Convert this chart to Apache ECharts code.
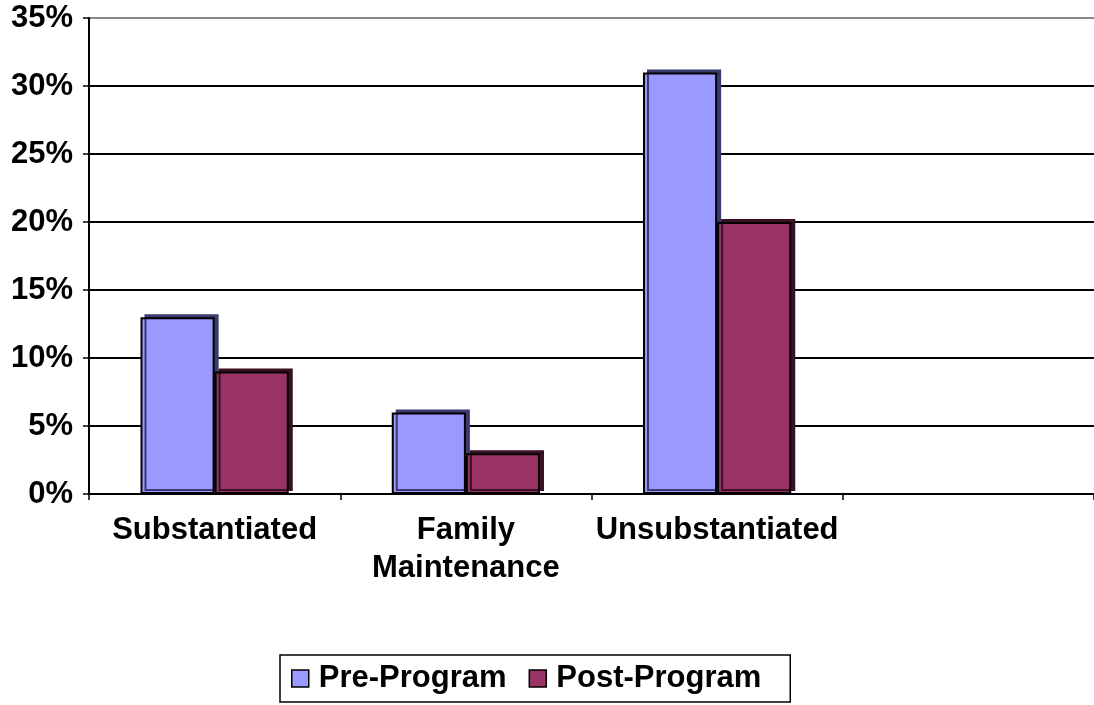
<!DOCTYPE html>
<html><head><meta charset="utf-8">
<script src="https://cdn.jsdelivr.net/npm/echarts@6/dist/echarts.min.js"></script>
<style>html,body{margin:0;padding:0;background:#fff}#c{width:1094px;height:705px}</style>
</head><body><div id="c"></div>
<script>
var categories = ['Substantiated', 'Family\nMaintenance', 'Unsubstantiated', ''];
var preProgram = [13, 6, 31, null];
var postProgram = [9, 3, 20, null];
var seriesNames = ['Pre-Program', 'Post-Program'];

var chart = echarts.init(document.getElementById('c'));
var font = '"Liberation Sans", Arial, sans-serif';
chart.setOption({
  animation: false,
  backgroundColor: '#fff',
  textStyle: { fontFamily: font },
  grid: { left: 89, right: -2, top: 18, bottom: 211, containLabel: false },
  legend: {
    bottom: 3, left: 280,
    icon: 'rect',
    itemWidth: 17, itemHeight: 17, itemGap: 22,
    padding: [8, 29, 8, 11],
    borderColor: '#000', borderWidth: 1.5,
    textStyle: { fontSize: 31, fontWeight: 'bold', color: '#000', fontFamily: font, padding: [0, 0, 0, 5] },
    itemStyle: { borderColor: '#000', borderWidth: 1.5 },
    data: seriesNames
  },
  xAxis: {
    type: 'category',
    data: categories,
    axisLine: { lineStyle: { color: '#000', width: 2 } },
    axisTick: { show: true, interval: 0, alignWithLabel: false, length: 6, lineStyle: { color: '#000', width: 1.5 } },
    axisLabel: { interval: 0, fontSize: 31, fontWeight: 'bold', color: '#000', fontFamily: font, margin: 17, lineHeight: 38 }
  },
  yAxis: {
    type: 'value', min: 0, max: 35, interval: 5,
    axisLine: { show: true, lineStyle: { color: '#000', width: 2 } },
    axisTick: { show: true, length: 6, lineStyle: { color: '#000', width: 1.5 } },
    axisLabel: { formatter: '{value}%', fontSize: 31, fontWeight: 'bold', color: '#000', fontFamily: font, margin: 16 },
    splitLine: { lineStyle: { color: ['#888', '#000', '#000', '#000', '#000', '#000', '#000', '#888'], width: 2 } }
  },
  series: [
    {
      name: seriesNames[0], type: 'bar', data: preProgram,
      barGap: '0%', barCategoryGap: '41%',
      itemStyle: { color: '#9999ff', borderColor: '#000', borderWidth: 2,
        shadowColor: '#3a3a70', shadowOffsetX: 4, shadowOffsetY: -3, shadowBlur: 0 }
    },
    {
      name: seriesNames[1], type: 'bar', data: postProgram,
      itemStyle: { color: '#993366', borderColor: '#000', borderWidth: 2,
        shadowColor: '#3a1025', shadowOffsetX: 4, shadowOffsetY: -3, shadowBlur: 0 }
    }
  ]
});
</script></body></html>
